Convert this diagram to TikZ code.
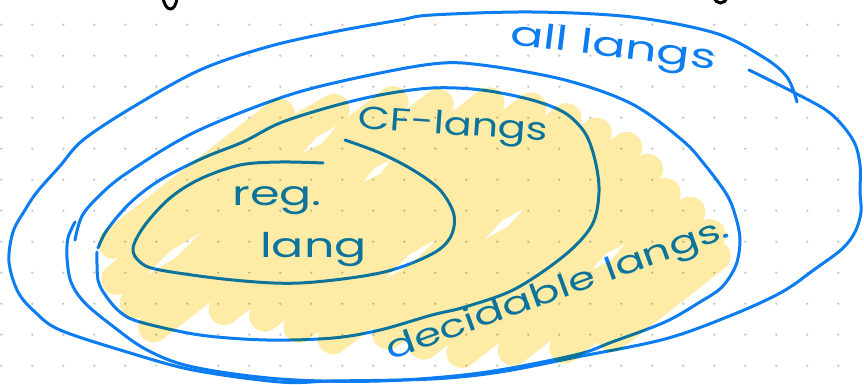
\documentclass[tikz,border=0pt]{standalone}
\usepackage{fontspec}
\newfontfamily\hand{Poppins}
\definecolor{penblue}{RGB}{12,125,240}
\definecolor{hiyellow}{RGB}{254,236,166}
\definecolor{dotgray}{RGB}{200,200,200}
\begin{document}
\begin{tikzpicture}[x=1pt,y=-1pt,
  pen/.style={draw=penblue, line width=3pt, line cap=round, line join=round},
  handtext/.style={text=penblue, inner sep=0pt, anchor=base west},
  hilite/.style={draw=hiyellow, line width=31pt, line cap=round, line join=round, blend mode=multiply},
]
\fill[white] (0,0) rectangle (864,385);
\useasboundingbox (0,0) rectangle (864,385);
% dot grid
\foreach \i in {0,...,27} {
  \foreach \j in {0,...,11} {
    \fill[dotgray] (1.3+31*\i, 24.7+31*\j) circle[radius=1.3pt];
  }
}
% cut-off black strokes at top
\draw[black, line width=3pt, line cap=round] (163,-3) .. controls (165,13) and (176,13) .. (177,-3);
\draw[black, line width=3pt, line cap=round] (714,-3) .. controls (716,5) and (725,5) .. (727,-3);
% all langs (outer)
\draw[pen] plot[smooth, tension=0.55] coordinates {
 (749,70) (793,92) (830,113) (853,140) (860,165) (860,192) (861,212) (855,232) (842,249)
 (815,269) (782,292) (732,315) (665,339) (577,357) (500,372) (432,379) (333,381)
 (280,382) (193,370) (127,352) (60,330) (35,312) (18,292) (9,262) (13,232) (25,210)
 (37,192) (60,166) (83,140) (133,107) (200,70) (267,47) (333,32) (400,20) (432,15)
 (532,12) (632,17) (715,33) (763,57) (787,77) (797,102)};
% decidable
\draw[pen] plot[smooth, tension=0.55] coordinates {
 (75,222) (68,238) (67,258) (71,282) (84,302) (110,324) (147,350) (193,367) (280,379)
 (380,381) (480,373) (575,355) (612,342) (665,322) (700,302) (722,287) (736,265)
 (740,240) (736,218) (727,195) (705,165) (682,140) (632,104) (565,80) (482,65) (432,64)
 (347,80) (280,98) (193,133) (127,173) (100,195) (82,216) (75,240)};
% CF
\draw[pen] plot[smooth, tension=0.55] coordinates {
 (97,252) (98,280) (106,296) (120,312) (140,322) (200,335) (267,340) (333,338) (380,330)
 (432,315) (465,307) (515,289) (565,255) (592,225) (599,192) (595,160) (585,133)
 (565,113) (532,100) (482,90) (432,88) (380,95) (330,107) (280,123) (243,142) (203,158)
 (160,180) (130,203) (107,230) (98,248)};
% reg
\draw[pen] plot[smooth, tension=0.55] coordinates {
 (323,163) (280,162) (240,165) (200,179) (170,198) (145,225) (133,248) (140,262) (160,270)
 (233,280) (300,283) (380,273) (430,255) (450,238) (454,215) (440,190) (413,170)
 (380,153) (345,140)};
% texts
\node[handtext, font=\hand\fontsize{34}{40}\selectfont, rotate=-7, xscale=1.45] (all) at (509,44) {all langs};
\node[handtext, font=\hand\fontsize{32}{40}\selectfont, rotate=-4, xscale=1.3] (cf) at (357,128) {CF-langs};
\node[handtext, font=\hand\fontsize{34}{40}\selectfont, xscale=1.4] (reg) at (232,205) {reg.};
\node[handtext, font=\hand\fontsize{34}{40}\selectfont, xscale=1.4] (lang) at (260,257) {lang};
\node[handtext, font=\hand\fontsize{32}{40}\selectfont, rotate=20, xscale=1.37] (dec) at (390,361) {decidable langs.};
% highlighter scribble: points are (along, across) in a frame turned by 38 degrees
\begin{scope}[rotate=38]
\path[hilite]
 (-60,262) -- (150,262)
 (-80,292) -- (-60,292) -- (-20,287) -- (20,292) -- (140,292) -- (165,287) -- (196,292)
 (-80,322) -- (-60,322) -- (-20,327) -- (20,322) -- (140,322) -- (165,327) -- (190,322) -- (247,322)
 (-80,352) -- (170,352) -- (192,347) -- (215,352) -- (281,352)
 (-14,382) -- (170,382) -- (192,387) -- (215,382) -- (322,382)
 (14,412) -- (352,412)
 (34,442) -- (126,442) -- (164,437) -- (202,442) -- (373,442)
 (54,472) -- (126,472) -- (164,477) -- (202,472) -- (230,472) -- (260,467) -- (290,472) -- (388,472)
 (100,502) -- (230,502) -- (260,507) -- (290,502) -- (403,502)
 (122,532) -- (406,532)
 (147,562) -- (296,562) -- (321,557) -- (347,562) -- (405,562)
 (189,592) -- (296,592) -- (321,597) -- (347,592) -- (413,592)
 (231,622) -- (415,622)
 (275,642) -- (406,642);
\end{scope}
\end{tikzpicture}
\end{document}
